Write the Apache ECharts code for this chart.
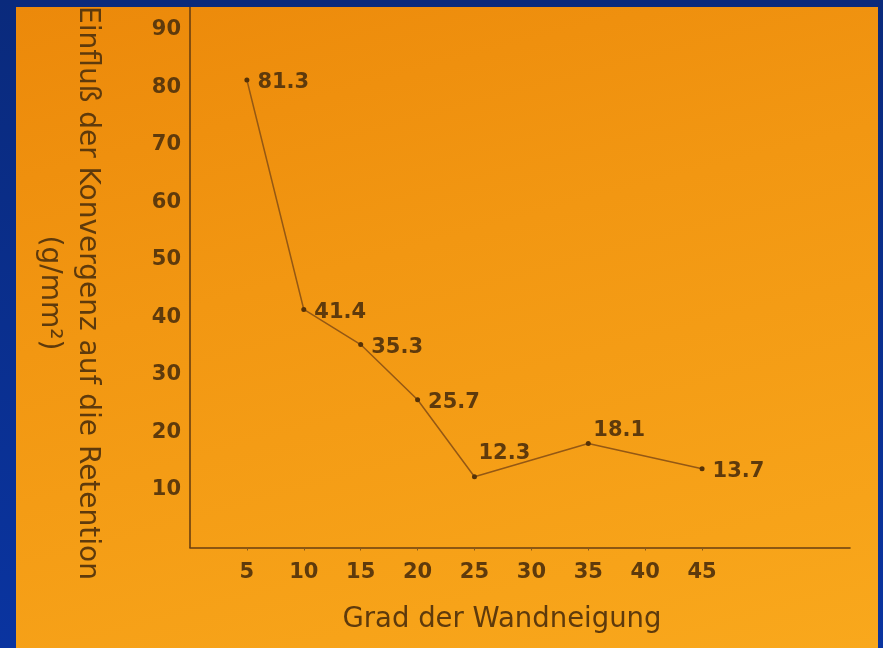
<!DOCTYPE html>
<html>
<head>
<meta charset="utf-8">
<script src="https://cdn.jsdelivr.net/npm/echarts@6/dist/echarts.min.js"></script>
<style>
  html, body { margin: 0; padding: 0; width: 883px; height: 648px; overflow: hidden;
    background: linear-gradient(180deg, #0a2a7c 0%, #0a34a0 100%); }
  #chart { position: absolute; left: 16px; top: 7px; width: 862px; height: 641px;
    background: linear-gradient(165deg, #ec890a 0%, #f29712 40%, #f9a81c 100%); }
</style>
</head>
<body>
<div id="chart"></div>
<script>
// Data
const xTitle = 'Grad der Wandneigung';
const yTitle = 'Einfluß der Konvergenz auf die Retention';
const yUnit = '(g/mm²)';
const wallAngles = [5, 10, 15, 20, 25, 35, 45];
const retentionValues = [81.3, 41.4, 35.3, 25.7, 12.3, 18.1, 13.7];
const xTickLabels = [5, 10, 15, 20, 25, 30, 35, 40, 45];
const yTickLabels = [10, 20, 30, 40, 50, 60, 70, 80, 90];

const textColor = '#5e3a0c';
const lineColor = '#945814';
const font = 'DejaVu Sans';

const labelOffsets = { 4: [4, -2], 5: [5, 8] };
const seriesData = wallAngles.map((x, i) => {
  const item = { value: [x, retentionValues[i]] };
  if (labelOffsets[i]) {
    item.label = { position: 'top', align: 'left', offset: labelOffsets[i] };
  }
  return item;
});

const chart = echarts.init(document.getElementById('chart'), null, { renderer: 'canvas' });
chart.setOption({
  backgroundColor: 'transparent',
  animation: false,
  grid: { left: 174, right: 28, top: 0, bottom: 100.5, containLabel: false },
  xAxis: {
    type: 'value',
    min: 0, max: 58, interval: 5,
    name: xTitle,
    nameLocation: 'middle',
    nameGap: 58,
    nameTextStyle: { fontFamily: font, fontSize: 27.5, color: textColor, padding: [0, 36, 0, 0] },
    axisLine: { show: true, lineStyle: { color: '#6a3f10', width: 1.6 } },
    axisTick: { show: true, length: 3, lineStyle: { color: '#8a5a1a', width: 1 },
      customValues: xTickLabels },
    splitLine: { show: false },
    axisLabel: {
      customValues: xTickLabels,
      fontFamily: font, fontSize: 21, fontWeight: 'bold', color: textColor, margin: 15,
      formatter: v => (xTickLabels.indexOf(v) >= 0 ? String(v) : '')
    }
  },
  yAxis: {
    type: 'value',
    min: 0, max: 94, interval: 10,
    axisLine: { show: true, lineStyle: { color: '#6a3f10', width: 1.6 } },
    axisTick: { show: false },
    splitLine: { show: false },
    axisLabel: {
      customValues: yTickLabels,
      fontFamily: font, fontSize: 21, fontWeight: 'bold', color: textColor, margin: 9,
      formatter: v => (yTickLabels.indexOf(v) >= 0 ? String(v) : '')
    }
  },
  graphic: [{
    type: 'text',
    x: 52, y: 286,
    rotation: -Math.PI / 2,
    style: {
      text: yTitle + '\n' + yUnit,
      fontFamily: font, fontSize: 28, fill: textColor,
      align: 'center', verticalAlign: 'middle', lineHeight: 38
    }
  }],
  series: [{
    type: 'line',
    data: seriesData,
    symbol: 'circle',
    symbolSize: 5,
    itemStyle: { color: '#553208' },
    lineStyle: { color: lineColor, width: 1.5 },
    label: {
      show: true,
      position: 'right',
      distance: 8,
      offset: [0, 3],
      fontFamily: font, fontSize: 21, fontWeight: 'bold', color: textColor,
      formatter: p => String(p.value[1])
    }
  }]
});
</script>
</body>
</html>
